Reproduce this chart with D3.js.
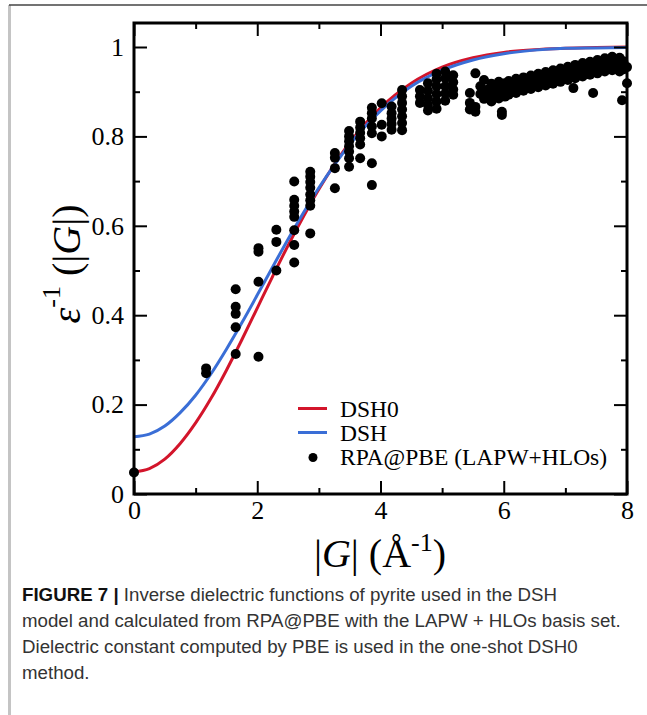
<!DOCTYPE html>
<html>
<head>
<meta charset="utf-8">
<script src="https://cdn.jsdelivr.net/npm/d3@7/dist/d3.min.js"></script>
<style>
  body { margin: 0; background: #fff; }
  svg { display: block; }
</style>
</head>
<body>
<svg id="chart" width="647" height="715"></svg>
<script>
// model curves, every 0.25 (then 0.5) in |G|
const curveG = [0, 0.25, 0.5, 0.75, 1, 1.25, 1.5, 1.75, 2, 2.25, 2.5, 2.75, 3, 3.25, 3.5, 3.75, 4, 4.5, 5, 5.5, 6, 6.5, 7, 7.5, 8];
const dsh0Eps = [0.050, 0.057, 0.078, 0.113, 0.159, 0.214, 0.277, 0.345, 0.416, 0.487, 0.556, 0.621, 0.682, 0.737, 0.786, 0.828, 0.864, 0.919, 0.955, 0.976, 0.988, 0.994, 0.997, 0.999, 1.000];
const dshEps = [0.128, 0.134, 0.152, 0.182, 0.221, 0.269, 0.324, 0.383, 0.445, 0.508, 0.570, 0.629, 0.685, 0.736, 0.782, 0.822, 0.857, 0.912, 0.948, 0.971, 0.985, 0.993, 0.997, 0.998, 0.999];

// RPA@PBE points, grouped by |G| shell
const rpaShellG = [0, 1.17, 1.65, 2.02, 2.31, 2.60, 2.86, 3.26, 3.49, 3.67, 3.86, 4.02, 4.18, 4.35, 4.64, 4.77, 4.91, 5.05, 5.18,
  5.45, 5.54, 5.62, 5.68, 5.74, 5.80, 5.86, 5.92, 5.97, 6.02, 6.08, 6.14, 6.20, 6.26, 6.32, 6.38, 6.44, 6.50, 6.56, 6.62,
  6.68, 6.74, 6.80, 6.86, 6.92, 6.98, 7.04, 7.10, 7.13, 7.16, 7.22, 7.28, 7.34, 7.40, 7.45, 7.46, 7.52, 7.58, 7.64, 7.70,
  7.76, 7.82, 7.88, 7.92, 7.94, 8.00];
const rpaShellEps = [
  [0.048],
  [0.281, 0.270],
  [0.458, 0.419, 0.403, 0.373, 0.313],
  [0.550, 0.542, 0.475, 0.307],
  [0.591, 0.564, 0.500],
  [0.699, 0.658, 0.645, 0.632, 0.620, 0.590, 0.557, 0.518],
  [0.721, 0.710, 0.698, 0.685, 0.670, 0.657, 0.645, 0.583],
  [0.763, 0.752, 0.729, 0.684],
  [0.812, 0.800, 0.789, 0.778, 0.766, 0.751, 0.732],
  [0.833, 0.820, 0.808, 0.796, 0.782, 0.751],
  [0.864, 0.852, 0.840, 0.822, 0.807, 0.740, 0.691],
  [0.874, 0.826, 0.800],
  [0.867, 0.852, 0.840, 0.828, 0.815],
  [0.904, 0.890, 0.875, 0.860, 0.845, 0.830, 0.814],
  [0.904, 0.890, 0.875],
  [0.919, 0.902, 0.885, 0.870, 0.858],
  [0.940, 0.928, 0.912, 0.895, 0.878, 0.862],
  [0.945, 0.930, 0.912, 0.896, 0.880],
  [0.937, 0.921, 0.905, 0.893],
  [0.897, 0.875, 0.860],
  [0.941, 0.866, 0.855],
  [0.912, 0.895],
  [0.926, 0.900, 0.884],
  [0.905, 0.889],
  [0.918, 0.896, 0.878],
  [0.910, 0.893],
  [0.922, 0.902, 0.885],
  [0.912, 0.855, 0.848],
  [0.919, 0.902, 0.889],
  [0.924, 0.907, 0.893],
  [0.918, 0.901],
  [0.929, 0.913, 0.897],
  [0.923, 0.906],
  [0.932, 0.917, 0.902],
  [0.927, 0.911],
  [0.936, 0.921, 0.906],
  [0.931, 0.915],
  [0.940, 0.925, 0.910],
  [0.935, 0.919],
  [0.944, 0.929, 0.914],
  [0.939, 0.923],
  [0.948, 0.933, 0.918],
  [0.943, 0.927],
  [0.952, 0.937, 0.922],
  [0.947, 0.931],
  [0.956, 0.941, 0.926],
  [0.951, 0.935],
  [0.908],
  [0.960, 0.945, 0.930],
  [0.955, 0.939],
  [0.964, 0.949, 0.934],
  [0.958, 0.943],
  [0.967, 0.952, 0.938],
  [0.897],
  [0.962, 0.946],
  [0.971, 0.956, 0.941],
  [0.966, 0.950],
  [0.975, 0.960, 0.945],
  [0.970, 0.954],
  [0.978, 0.963, 0.948],
  [0.972, 0.957],
  [0.976, 0.960, 0.945],
  [0.881],
  [0.968, 0.950],
  [0.955, 0.919]
];

const xMajor = [0, 2, 4, 6, 8];
const xMinor = [1, 3, 5, 7];
const yMajor = [0, 0.2, 0.4, 0.6, 0.8, 1];
const yMinor = [0.1, 0.3, 0.5, 0.7, 0.9];
const legendLabels = ["DSH0", "DSH", "RPA@PBE (LAPW+HLOs)"];
const seriesColors = ["#d3152b", "#3a6ed6", "#000"];

const svg = d3.select("#chart");
const serif = "'Liberation Serif', 'Times New Roman', serif";

// panel border of the figure page
svg.append("line").attr("x1", 9.5).attr("x2", 9.5).attr("y1", 5).attr("y2", 715)
  .attr("stroke", "#c4c4c4").attr("stroke-width", 3);
svg.append("line").attr("x1", 9).attr("x2", 647).attr("y1", 5).attr("y2", 5)
  .attr("stroke", "#444").attr("stroke-width", 1.5);

const pLeft = 134, pRight = 627, pTop = 23, pBottom = 494;
const x = d3.scaleLinear().domain([0, 8]).range([pLeft, pRight]);
const y = d3.scaleLinear().domain([0, 1]).range([pBottom, 47]);

// flatten shells into points
let points = [];
rpaShellG.forEach((gv, i) => {
  rpaShellEps[i].forEach(v => points.push([gv, v]));
});

const g = svg.append("g");

// lines
const line = d3.line().x(d => x(d[0])).y(d => y(d[1])).curve(d3.curveMonotoneX);
g.append("path").datum(curveG.map((d, i) => [d, dsh0Eps[i]]))
  .attr("d", line).attr("fill", "none").attr("stroke", seriesColors[0]).attr("stroke-width", 3);
g.append("path").datum(curveG.map((d, i) => [d, dshEps[i]]))
  .attr("d", line).attr("fill", "none").attr("stroke", seriesColors[1]).attr("stroke-width", 3);

g.selectAll(".dot")
  .data(points)
  .enter().append("circle")
  .attr("class", "dot")
  .attr("cx", d => x(d[0]))
  .attr("cy", d => y(d[1]))
  .attr("r", 5)
  .attr("fill", "#000");

// axes, ticks pointing inwards on all four sides
function styleAxis(sel) {
  sel.select(".domain").remove();
  sel.selectAll("line").attr("stroke", "#000").attr("stroke-width", 2);
  sel.selectAll("text").attr("font-family", serif).attr("font-size", "26px").attr("fill", "#000");
}
const axisDefs = [
  [() => d3.axisBottom(x), "translate(0," + pBottom + ")", xMajor, xMinor, 7, true],
  [() => d3.axisTop(x), "translate(0," + pTop + ")", xMajor, xMinor, 6, false],
  [() => d3.axisLeft(y), "translate(" + pLeft + ",0)", yMajor, yMinor, 10, true],
  [() => d3.axisRight(y), "translate(" + pRight + ",0)", yMajor, yMinor, 6, false]
];
axisDefs.forEach(a => {
  svg.append("g").attr("transform", a[1])
    .call(a[0]().tickValues(a[2]).tickSize(-13).tickPadding(a[4]).tickFormat(a[5] ? d3.format("") : () => ""))
    .call(styleAxis);
  svg.append("g").attr("transform", a[1])
    .call(a[0]().tickValues(a[3]).tickSize(-6).tickFormat(() => ""))
    .call(styleAxis);
});

// frame
svg.append("rect").attr("x", pLeft).attr("y", pTop)
  .attr("width", pRight - pLeft).attr("height", pBottom - pTop)
  .attr("fill", "none").attr("stroke", "#000").attr("stroke-width", 3);

// axis titles
const xt = svg.append("text").attr("x", 380).attr("y", 567)
  .attr("text-anchor", "middle").attr("font-family", serif).attr("font-size", "40px");
xt.append("tspan").text("|");
xt.append("tspan").attr("font-style", "italic").text("G");
xt.append("tspan").text("| (Å");
xt.append("tspan").attr("font-size", "26px").attr("dy", -16).text("-1");
xt.append("tspan").attr("dy", 16).text(")");

const yt = svg.append("text").attr("transform", "translate(80,264) rotate(-90)")
  .attr("text-anchor", "middle").attr("font-family", serif).attr("font-size", "40px");
yt.append("tspan").attr("font-style", "italic").text("ε");
yt.append("tspan").attr("font-size", "26px").attr("dy", -20).text("-1");
yt.append("tspan").attr("dy", 20).text(" (|");
yt.append("tspan").attr("font-style", "italic").text("G");
yt.append("tspan").text("|)");

// legend
const leg = svg.append("g").attr("font-family", serif).attr("font-size", "23.5px");
legendLabels.forEach((lab, i) => {
  const ly = 408.5 + i * 24;
  if (i < 2) {
    leg.append("line").attr("x1", 298).attr("x2", 327).attr("y1", ly).attr("y2", ly)
      .attr("stroke", seriesColors[i]).attr("stroke-width", 3);
  } else {
    leg.append("circle").attr("cx", 313).attr("cy", ly + 1).attr("r", 4.5).attr("fill", "#000");
  }
  leg.append("text").attr("x", 340).attr("y", ly + 8.5).text(lab);
});

// caption
const captionLines = [
  "Inverse dielectric functions of pyrite used in the DSH",
  "model and calculated from RPA@PBE with the LAPW + HLOs basis set.",
  "Dielectric constant computed by PBE is used in the one-shot DSH0",
  "method."
];
const cap = svg.append("g").attr("font-family", "'Liberation Sans', Arial, sans-serif")
  .attr("font-size", "18.7px").attr("fill", "#333");
captionLines.forEach((t, i) => {
  const tx = cap.append("text").attr("x", 22).attr("y", 601 + i * 26);
  if (i === 0) {
    tx.append("tspan").attr("font-weight", "bold").attr("fill", "#111").text("FIGURE 7 | ");
  }
  tx.append("tspan").text(t);
});
</script>
</body>
</html>
